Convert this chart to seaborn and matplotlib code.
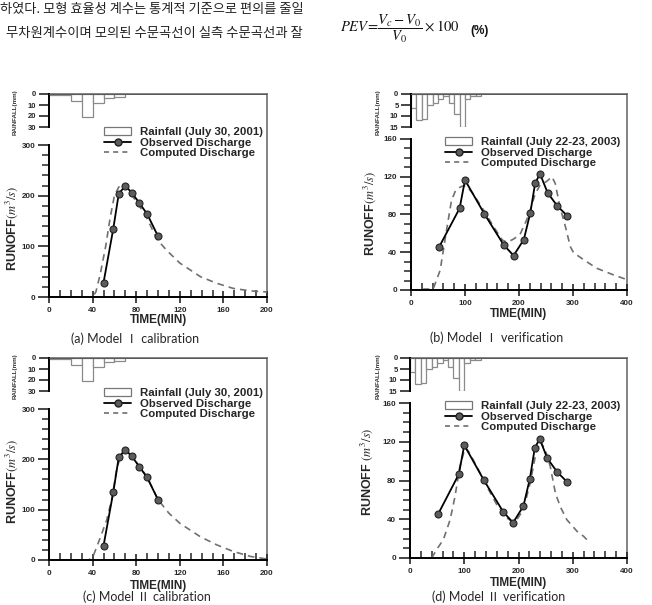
import matplotlib
matplotlib.use('Agg')
import matplotlib.pyplot as plt
import seaborn as sns
from matplotlib.patches import Patch
from matplotlib.lines import Line2D

# ---------------- data ----------------
# Rainfall hyetographs (10-min blocks: start time, depth mm)
rain_2001_t = [0, 10, 20, 30, 40, 50, 60]
rain_2001_v = [0.5, 1.0, 6.5, 21.0, 8.0, 3.5, 2.5]
rain_2003_t = [0, 10, 20, 30, 40, 50, 60, 70, 80, 90, 100, 110, 120]
rain_2003_v = [6.3, 12.0, 11.2, 5.2, 4.1, 2.3, 1.0, 4.0, 9.0, 15.0, 2.1, 1.0, 0.7]

# Observed discharge (m3/s)
obs_2001_t = [50, 59, 64, 70, 76, 83, 90, 100]
obs_2001_q = [28, 135, 204, 219, 206, 185, 164, 120]
obs_2003_t = [52, 90, 100, 136, 172, 190, 209, 221, 230, 239, 253, 271, 289]
obs_2003_q = [45.5, 86.5, 116.5, 80.5, 47.5, 36.5, 53.5, 82, 113.5, 123, 103, 89, 78.8]

# Computed discharge, Model I
m1_cal_t = [0, 20, 40, 43, 47, 52, 56, 60, 64, 68, 72, 77, 84, 90, 99, 108, 120, 139, 154, 169, 185, 200]
m1_cal_q = [0, 0, 0, 10, 45, 100, 155, 200, 217, 222, 215, 198, 176, 155, 114, 92, 67, 40, 27, 17, 12, 10]
m1_ver_t = [0, 15, 25, 35, 41, 54, 66, 75, 83, 94, 103, 115, 134, 153, 169, 178, 190, 202, 214, 221,
            230, 239, 251, 261, 267, 276, 286, 295, 301, 320, 344, 375, 400]
m1_ver_q = [0, 0, 1, 1, 1, 21, 64, 95, 106, 110, 110, 102, 85, 67, 53, 50.5, 54, 59, 74, 85,
            102, 111, 115, 120, 113, 88, 67, 46, 39.5, 32, 23, 16, 11]

# Computed discharge, Model II
m2_cal_t = [0, 20, 36, 40, 44, 48, 53, 58, 62, 66, 70, 76, 83, 90, 100, 110, 120, 139, 154, 169, 185, 200]
m2_cal_q = [0, 0, 0, 5, 27, 50, 80, 125, 180, 208, 220, 206, 186, 165, 120, 93, 73, 46, 30, 17, 7, 2]
m2_ver_t = [40, 49, 61.5, 74, 83, 92, 101.5, 108, 123, 141.5, 160, 178.5, 188, 197, 209, 221.5,
            231, 240, 249, 258.5, 268, 277, 289, 308, 320, 332]
m2_ver_q = [0, 8.6, 19, 39.6, 63.7, 94.6, 113.6, 110, 94.6, 74, 55, 41.3, 37.9, 39.6, 50, 77.4,
            105, 120.4, 112, 94.6, 67, 53, 39.6, 27.5, 22.4, 15.5]

korean_line1 = "하였다. 모형 효율성 계수는 통계적 기준으로 편의를 줄일"
korean_line2 = "무차원계수이며 모의된 수문곡선이 실측 수문곡선과 잘"

# ---------------- figure ----------------
sns.set_theme(style='white')
plt.rcParams['font.family'] = ['Liberation Sans', 'DejaVu Sans']
plt.rcParams['mathtext.fontset'] = 'stix'

W, H = 652, 605
fig = plt.figure(figsize=(W / 100, H / 100), dpi=100)
fig.patch.set_facecolor('white')


def rect(l, t, r, b):
    return [l / W, 1 - b / H, (r - l) / W, (b - t) / H]


def fx(x):
    return x / W


def fy(y):
    return 1 - y / H


CAP_FAM = ['Lato', 'Noto Sans CJK KR', 'DejaVu Sans']


def panel(L, R, rt, rb, mt, mb, rain_t, rain_v, rmax, rticks,
          obs_t, obs_q, comp_t, comp_q, xmax, xmaj, xmin_step, ymax, ymaj, ymin_step,
          legend_xy, rain_label, ylabel, ylabel_xy, rainlab_x, caption, cap_xy,
          ticklab_y, timelab_y):
    # outer frame (top + right border)
    fr = fig.add_axes(rect(L, rt, R, mb))
    fr.set_facecolor('none')
    for s in ['left', 'bottom']:
        fr.spines[s].set_visible(False)
    for s in ['top', 'right']:
        fr.spines[s].set_color('#7a7a7a')
        fr.spines[s].set_linewidth(1.3)
    fr.set_xticks([])
    fr.set_yticks([])

    # rainfall
    ra = fig.add_axes(rect(L, rt, R, rb))
    ra.set_facecolor('none')
    ra.bar(rain_t, rain_v, width=10, align='edge', facecolor='white',
           edgecolor='#8a8a8a', linewidth=0.9)
    ra.set_xlim(0, xmax)
    ra.set_ylim(rmax, 0)
    ra.set_xticks([])
    ra.set_yticks(rticks, labels=[str(v) for v in rticks], fontsize=5.5, fontweight='bold')
    ra.tick_params(axis='y', direction='out', length=7, width=1.2, pad=2, left=True)
    for s in ['top', 'right', 'bottom']:
        ra.spines[s].set_visible(False)
    ra.spines['left'].set_color('black')
    ra.spines['left'].set_linewidth(1.4)
    ra.axhline(0, color='#555555', lw=1.3, zorder=5)

    # runoff
    ax = fig.add_axes(rect(L, mt, R, mb))
    ax.set_facecolor('none')
    sns.lineplot(x=comp_t, y=comp_q, ax=ax, color='#707070', linewidth=1.2,
                 linestyle=(0, (4, 3)), sort=False)
    sns.lineplot(x=obs_t, y=obs_q, ax=ax, color='black', linewidth=1.3, marker='o',
                 markersize=5, markerfacecolor='#5c5c5c', markeredgecolor='#222222',
                 markeredgewidth=0.8, sort=False)
    ax.set_xlim(0, xmax)
    ax.set_ylim(0, ymax)
    xt = list(range(0, xmax + 1, xmaj))
    yt = list(range(0, ymax + 1, ymaj))
    ax.set_xticks(xt, labels=[str(v) for v in xt], fontsize=5.8, fontweight='bold')
    ax.set_yticks(yt, labels=[str(v) for v in yt], fontsize=5.8, fontweight='bold')
    ax.set_xticks(list(range(0, xmax + 1, xmin_step)), minor=True)
    ax.set_yticks(list(range(0, ymax + 1, ymin_step)), minor=True)
    ax.tick_params(axis='x', which='major', direction='inout', length=9, width=1.2, pad=3, bottom=True)
    ax.tick_params(axis='x', which='minor', direction='in', length=5, width=1.1, bottom=True)
    ax.tick_params(axis='y', which='major', direction='out', length=8, width=1.2, pad=2, left=True)
    ax.tick_params(axis='y', which='minor', direction='out', length=5, width=1.1, left=True)
    for s in ['top', 'right']:
        ax.spines[s].set_visible(False)
    for s in ['left', 'bottom']:
        ax.spines[s].set_color('black')
        ax.spines[s].set_linewidth(1.4)
    ax.set_xlabel('')
    ax.set_ylabel('')

    handles = [Patch(facecolor='white', edgecolor='#777777', linewidth=0.9),
               Line2D([], [], color='black', lw=1.3, marker='o', markersize=5,
                      markerfacecolor='#5c5c5c', markeredgecolor='#222222'),
               Line2D([], [], color='#707070', lw=1.2, linestyle=(0, (3, 2.5)))]
    labels = [rain_label, 'Observed Discharge', 'Computed Discharge']
    fig.legend(handles, labels, loc='upper left', bbox_to_anchor=(fx(legend_xy[0]), fy(legend_xy[1])),
               frameon=False, borderpad=0, borderaxespad=0, handlelength=2.4, handleheight=0.7,
               handletextpad=0.8, labelspacing=0.05,
               prop={'family': 'Liberation Sans', 'weight': 'bold', 'size': 8.2})

    fig.text(fx(ylabel_xy[0]), fy(ylabel_xy[1]), ylabel, rotation=90, ha='center', va='center',
             fontsize=9, fontweight='bold')
    fig.text(fx(rainlab_x), fy((rt + rb) / 2 + 2), 'RAINFALL(mm)', rotation=90, ha='center',
             va='center', fontsize=4.5, fontweight='bold', color='#333333')
    fig.text(fx((L + R) / 2), fy(timelab_y), 'TIME(MIN)', ha='center', va='center',
             fontsize=8.5, fontweight='bold')
    fig.text(fx(cap_xy[0]), fy(cap_xy[1]), caption, ha='center', va='center', fontsize=9,
             family=CAP_FAM)


# (a)
panel(49, 267, 94, 127, 145, 297, rain_2001_t, rain_2001_v, 30, [0, 10, 20, 30],
      obs_2001_t, obs_2001_q, m1_cal_t, m1_cal_q, 200, 40, 10, 300, 100, 20,
      (104, 127), 'Rainfall (July 30, 2001)', r'RUNOFF$(m^3/s)$', (12, 228), 15,
      '(a) Model Ⅰ calibration', (135, 339), 310, 320)
# (b)
panel(411, 627, 94, 127, 139, 290, rain_2003_t, rain_2003_v, 15, [0, 5, 10, 15],
      obs_2003_t, obs_2003_q, m1_ver_t, m1_ver_q, 400, 100, 20, 160, 40, 10,
      (445, 137), 'Rainfall (July 22-23, 2003)', r'RUNOFF$(m^3/s)$', (370, 213), 378,
      '(b) Model Ⅰ verification', (497, 338), 304, 314)
# (c)
panel(49, 267, 358, 391, 409, 560, rain_2001_t, rain_2001_v, 30, [0, 10, 20, 30],
      obs_2001_t, obs_2001_q, m2_cal_t, m2_cal_q, 200, 40, 10, 300, 100, 20,
      (104, 388), 'Rainfall (July 30, 2001)', r'RUNOFF$(m^3/s)$', (12, 481), 15,
      '(c) Model Ⅱ calibration', (147, 597), 575, 586)
# (d)
panel(410, 627, 358, 391, 403, 558, rain_2003_t, rain_2003_v, 15, [0, 5, 10, 15],
      obs_2003_t, obs_2003_q, m2_ver_t, m2_ver_q, 400, 100, 20, 160, 40, 10,
      (445, 401), 'Rainfall (July 22-23, 2003)', r'RUNOFF $(m^3/s)$', (367, 472), 378,
      '(d) Model Ⅱ verification', (499, 597), 573, 583)

# page text at the top
fig.text(fx(0), fy(10), korean_line1, ha='left', va='center', fontsize=9.5,
         family=['Noto Sans CJK KR', 'DejaVu Sans'], color='#222222')
fig.text(fx(6), fy(33), korean_line2, ha='left', va='center', fontsize=9.6,
         family=['Noto Sans CJK KR', 'DejaVu Sans'], color='#222222')
fig.text(fx(340), fy(29), r'$PEV\!=\!\dfrac{V_c - V_0}{V_0}\times 100$', ha='left', va='center',
         fontsize=10.5, color='#111111')
fig.text(fx(470), fy(31), '(%)', ha='left', va='center', fontsize=8.5, fontweight='bold',
         color='#111111')

fig.savefig('out.png', dpi=100, facecolor='white')
